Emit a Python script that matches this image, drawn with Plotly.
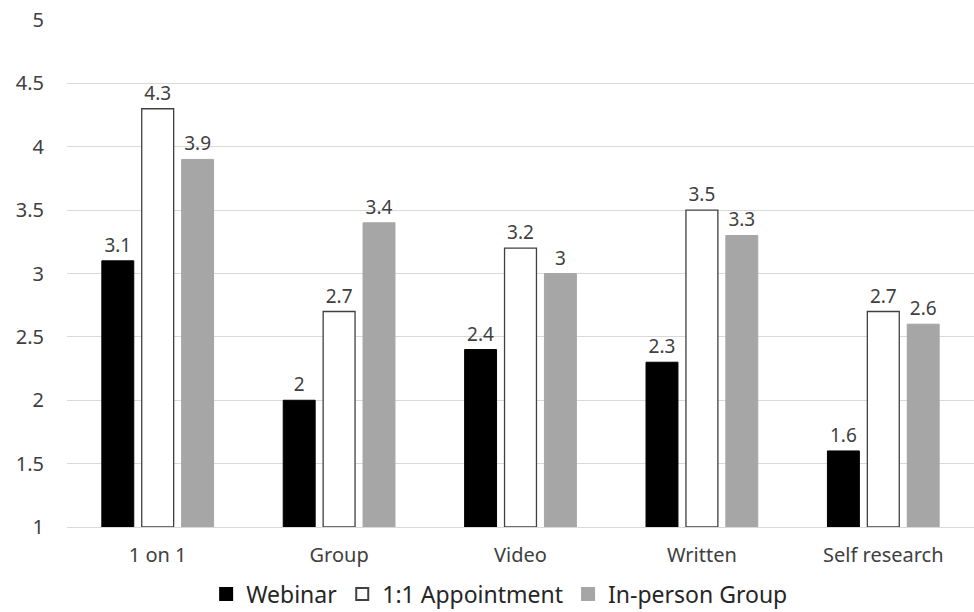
import plotly.graph_objects as go

categories = ["1 on 1", "Group", "Video", "Written", "Self research"]
webinar = [3.1, 2.0, 2.4, 2.3, 1.6]
appointment = [4.3, 2.7, 3.2, 3.5, 2.7]
in_person = [3.9, 3.4, 3.0, 3.3, 2.6]

AXIS_FLOOR = 1
FONT = "Noto Sans"
label_font = dict(family=FONT, size=19, color="#404040")


def bar(name, values, fill, edge, edge_w):
    return go.Bar(
        name=name, x=categories,
        y=[v - AXIS_FLOOR for v in values], base=AXIS_FLOOR,
        marker=dict(color=fill, line=dict(color=edge, width=edge_w)),
        text=[f"{v:g}" for v in values], textposition="outside",
        textfont=label_font, cliponaxis=False,
    )


fig = go.Figure([
    bar("Webinar", webinar, "#000000", "#000000", 1),
    bar("1:1 Appointment", appointment, "#ffffff", "#404040", 1.3),
    bar("In-person Group", in_person, "#a6a6a6", "#a6a6a6", 1),
])

fig.update_layout(
    width=974, height=612,
    margin=dict(l=67, r=0, t=20, b=85, autoexpand=False),
    paper_bgcolor="white", plot_bgcolor="white",
    barmode="group", bargap=0.34, bargroupgap=0.2,
    font=dict(family=FONT, size=20, color="#404040"),
    showlegend=True,
    legend=dict(orientation="h", x=0.477, xanchor="center",
                y=-0.09, yanchor="top",
                font=dict(family=FONT, size=23, color="#262626"),
                itemsizing="constant", traceorder="normal"),
)
fig.update_yaxes(range=[1, 5], dtick=0.5, tick0=1, showgrid=True, gridcolor="#d9d9d9",
                 gridwidth=1, zeroline=False, showline=False, ticks="",
                 tickfont=dict(family=FONT, size=20, color="#404040"), ticklabelstandoff=22)
fig.update_xaxes(showline=True, linecolor="#d9d9d9", linewidth=1, ticks="",
                 tickfont=dict(family=FONT, size=20, color="#404040"), ticklabelstandoff=10)

fig.write_html("out.html")
